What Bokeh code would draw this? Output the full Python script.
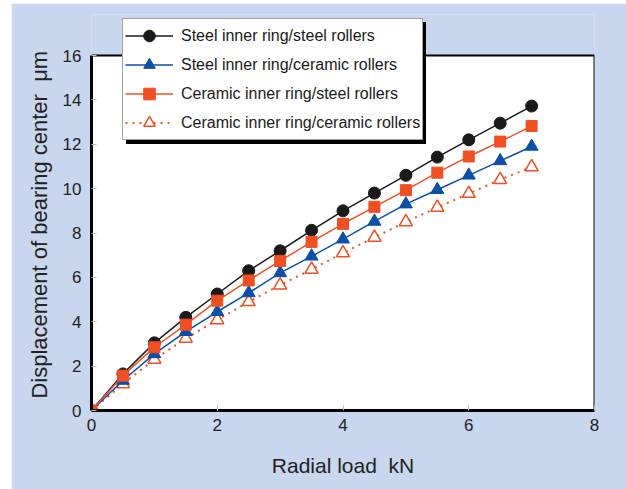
from bokeh.plotting import figure
from bokeh.models import Legend, LegendItem, Range1d, FixedTicker, ColumnDataSource, BoxAnnotation
from bokeh.embed import file_html
from bokeh.resources import INLINE

# ---- data ----
radial_load = [0, 0.5, 1, 1.5, 2, 2.5, 3, 3.5, 4, 4.5, 5, 5.5, 6, 6.5, 7]
steel_ring_steel_rollers = [0, 1.65, 3.05, 4.2, 5.25, 6.3, 7.2, 8.12, 9.0, 9.8, 10.6, 11.42, 12.2, 12.95, 13.72]
steel_ring_ceramic_rollers = [0, 1.35, 2.55, 3.55, 4.45, 5.3, 6.2, 6.95, 7.72, 8.52, 9.3, 9.95, 10.6, 11.25, 11.9]
ceramic_ring_steel_rollers = [0, 1.57, 2.85, 3.87, 4.95, 5.86, 6.74, 7.6, 8.41, 9.18, 9.93, 10.72, 11.45, 12.12, 12.82]
ceramic_ring_ceramic_rollers = [0, 1.2, 2.3, 3.25, 4.08, 4.9, 5.65, 6.36, 7.1, 7.8, 8.5, 9.15, 9.78, 10.4, 10.98]
series_names = [
    "Steel inner ring/steel rollers",
    "Steel inner ring/ceramic rollers",
    "Ceramic inner ring/steel rollers",
    "Ceramic inner ring/ceramic rollers",
]
x_ticks = [0, 2, 4, 6, 8]
y_ticks = [0, 2, 4, 6, 8, 10, 12, 14, 16]
x_title = "Radial load\u00a0 kN"
y_title = "Displacement of bearing center\u00a0 \u03bcm"

FONT = "Liberation Sans"
BG = "#c8d6ee"
BLACK = "#1a1a1a"
BLUE = "#0b4fa6"
RED = "#f04e23"

# layout (pixels): frame spans above the plot box so the legend can overhang it
FIG_W, FIG_H = 615, 486
BORDER_TOP, BORDER_BOTTOM = 11, 79
PLOT_BOX_H = 355                       # height of the white box (0..16)
FRAME_H = FIG_H - BORDER_TOP - BORDER_BOTTOM
y_max = y_ticks[-1]
y_end = y_max * FRAME_H / PLOT_BOX_H

p = figure(width=FIG_W, height=FIG_H, output_backend="svg", toolbar_location=None,
           x_range=Range1d(x_ticks[0], x_ticks[-1]), y_range=Range1d(y_ticks[0], y_end),
           min_border_left=80, min_border_right=32,
           min_border_top=BORDER_TOP, min_border_bottom=BORDER_BOTTOM)
p.margin = (3, 0, 0, 11)
p.border_fill_color = BG
p.background_fill_color = BG
p.outline_line_color = None
p.xgrid.visible = False
p.ygrid.visible = False

plot_box = BoxAnnotation(top=y_max, fill_color="white", fill_alpha=1,
                         line_color="black", line_width=2, line_alpha=1, level="underlay")
p.add_layout(plot_box)

for ax in (p.xaxis[0], p.yaxis[0]):
    ax.axis_line_color = "black"
    ax.axis_line_width = 3
    ax.major_tick_in = 5
    ax.major_tick_out = 0
    ax.major_tick_line_color = "#bbbbbb"
    ax.minor_tick_line_color = None
    ax.major_label_text_font = FONT
    ax.major_label_text_font_size = "17px"
    ax.major_label_text_color = "#222222"
    ax.axis_label_text_font = FONT
    ax.axis_label_text_font_style = "normal"
    ax.axis_label_text_color = "#222222"

p.xaxis.axis_label_text_font_size = "21px"
p.yaxis.axis_label_text_font_size = "22px"
p.yaxis.bounds = (y_ticks[0], y_max)
p.xaxis.ticker = FixedTicker(ticks=x_ticks)
p.yaxis.ticker = FixedTicker(ticks=y_ticks)
p.xaxis.axis_label = x_title
# trailing blanks keep the title centred on the white plot box rather than the taller frame
p.yaxis.axis_label = y_title + "\u00a0" * 4
p.xaxis.major_label_standoff = 8
p.xaxis.axis_label_standoff = 20
p.yaxis.major_label_standoff = 10
p.yaxis.axis_label_standoff = 8

src = ColumnDataSource(dict(x=radial_load, a=steel_ring_steel_rollers, b=steel_ring_ceramic_rollers,
                            c=ceramic_ring_steel_rollers, d=ceramic_ring_ceramic_rollers))

l1 = p.line("x", "a", source=src, line_color=BLACK, line_width=1.5)
m1 = p.scatter("x", "a", source=src, marker="circle", size=12, fill_color=BLACK, line_color=BLACK)
l4 = p.line("x", "d", source=src, line_color=RED, line_width=2, line_dash="2 5")
m4 = p.scatter("x", "d", source=src, marker="triangle", size=13, fill_color="white", line_color=RED, line_width=1.5)
l2 = p.line("x", "b", source=src, line_color=BLUE, line_width=1.5)
m2 = p.scatter("x", "b", source=src, marker="triangle", size=13, fill_color=BLUE, line_color=BLUE)
l3 = p.line("x", "c", source=src, line_color=RED, line_width=1.5)
m3 = p.scatter("x", "c", source=src, marker="square", size=11, fill_color=RED, line_color=RED)

LEG = dict(label_text_font=FONT, label_text_font_size="16px",
           glyph_width=48, glyph_height=29, label_height=20, label_standoff=8,
           spacing=0, padding=2, margin=0, label_width=238)

# shadow box behind the legend (blank entries, same size)
empty = ColumnDataSource(dict(x=[], y=[]))
dummy = p.line("x", "y", source=empty, line_color="black")
shadow = Legend(items=[LegendItem(label="\u00a0", renderers=[dummy]) for _ in series_names],
                location=(35, 266), background_fill_color="black", background_fill_alpha=1,
                border_line_color="black", label_text_color="black", **LEG)
p.add_layout(shadow, "center")

legend = Legend(items=[
    LegendItem(label=series_names[0], renderers=[l1, m1]),
    LegendItem(label=series_names[1], renderers=[l2, m2]),
    LegendItem(label=series_names[2], renderers=[l3, m3]),
    LegendItem(label=series_names[3], renderers=[l4, m4]),
], location=(31, 270), background_fill_color="white", background_fill_alpha=1,
    border_line_color="#444444", border_line_width=1, label_text_color="#1a1a1a", **LEG)
p.add_layout(legend, "center")

open("out.html", "w").write(file_html(p, INLINE))
